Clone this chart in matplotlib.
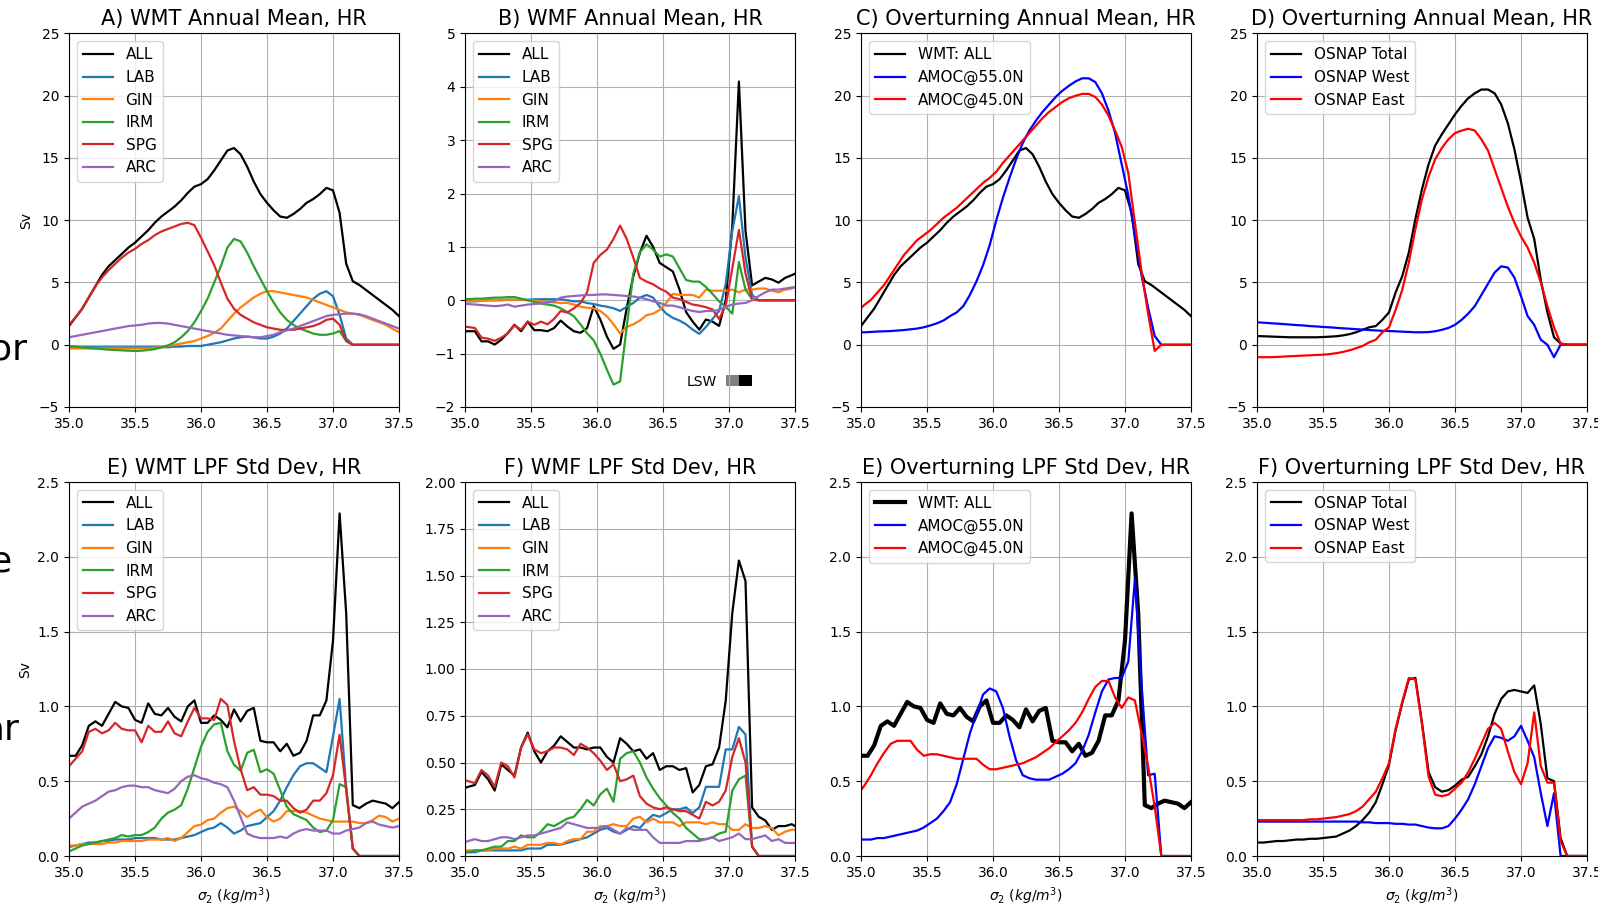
import numpy as np
import matplotlib
matplotlib.use("Agg")
import matplotlib.pyplot as plt

# density bins (WMT / OSNAP) and bin midpoints (WMF / AMOC)
sig = np.round(np.arange(35.0, 37.5001, 0.05), 3)
sig_mid = np.round(np.arange(34.975, 37.5251, 0.05), 3)

# ---- annual mean WMT by region (Sv)
wmt_all = [1.5, 2.2, 2.9, 3.8, 4.7, 5.6, 6.3, 6.8, 7.3, 7.8,
           8.2, 8.7, 9.2, 9.8, 10.3, 10.7, 11.1, 11.6, 12.2, 12.7,
           12.9, 13.3, 14.0, 14.8, 15.6, 15.8, 15.3, 14.3, 13.1, 12.1,
           11.4, 10.8, 10.3, 10.2, 10.5, 10.9, 11.4, 11.7, 12.1, 12.6,
           12.4, 10.6, 6.5, 5.1, 4.8, 4.4, 4.0, 3.6, 3.2, 2.8,
           2.3]
wmt_lab = [-0.2, -0.2, -0.2, -0.2, -0.2, -0.2, -0.2, -0.2, -0.2, -0.2,
           -0.2, -0.2, -0.2, -0.2, -0.2, -0.2, -0.15, -0.15, -0.1, -0.1,
           -0.1, 0.0, 0.1, 0.2, 0.35, 0.5, 0.6, 0.65, 0.6, 0.5,
           0.5, 0.65, 0.9, 1.3, 1.9, 2.5, 3.1, 3.7, 4.1, 4.3,
           3.9, 2.4, 0.5, 0.0, 0.0, 0.0, 0.0, 0.0, 0.0, 0.0,
           0.0]
wmt_gin = [-0.3, -0.3, -0.3, -0.3, -0.3, -0.3, -0.3, -0.3, -0.3, -0.3,
           -0.3, -0.3, -0.3, -0.25, -0.2, -0.1, 0.0, 0.1, 0.2, 0.3,
           0.5, 0.7, 0.95, 1.3, 1.9, 2.5, 3.0, 3.4, 3.8, 4.1,
           4.3, 4.3, 4.2, 4.1, 4.0, 3.9, 3.8, 3.6, 3.4, 3.2,
           3.0, 2.8, 2.6, 2.5, 2.4, 2.2, 2.0, 1.8, 1.6, 1.3,
           1.0]
wmt_irm = [-0.1, -0.15, -0.2, -0.25, -0.3, -0.35, -0.4, -0.42, -0.45, -0.48,
           -0.5, -0.48, -0.42, -0.35, -0.2, -0.05, 0.2, 0.6, 1.1, 1.8,
           2.7, 3.7, 5.0, 6.3, 7.8, 8.5, 8.3, 7.4, 6.3, 5.3,
           4.3, 3.4, 2.6, 2.0, 1.6, 1.3, 1.1, 0.9, 0.8, 0.8,
           0.9, 1.1, 0.3, 0.0, 0.0, 0.0, 0.0, 0.0, 0.0, 0.0,
           0.0]
wmt_spg = [1.6, 2.2, 2.9, 3.8, 4.7, 5.4, 6.0, 6.5, 7.0, 7.4,
           7.7, 8.1, 8.4, 8.8, 9.1, 9.3, 9.5, 9.7, 9.8, 9.6,
           8.6, 7.5, 6.4, 5.0, 3.7, 2.9, 2.4, 2.1, 1.8, 1.6,
           1.4, 1.3, 1.2, 1.2, 1.2, 1.3, 1.4, 1.5, 1.7, 2.0,
           2.1, 1.6, 0.3, 0.0, 0.0, 0.0, 0.0, 0.0, 0.0, 0.0,
           0.0]
wmt_arc = [0.6, 0.7, 0.8, 0.9, 1.0, 1.1, 1.2, 1.3, 1.4, 1.5,
           1.55, 1.6, 1.7, 1.75, 1.75, 1.7, 1.6, 1.5, 1.4, 1.3,
           1.2, 1.1, 1.0, 0.9, 0.8, 0.75, 0.7, 0.65, 0.6, 0.6,
           0.7, 0.8, 1.0, 1.15, 1.3, 1.5, 1.7, 1.9, 2.1, 2.3,
           2.4, 2.45, 2.5, 2.5, 2.45, 2.3, 2.1, 1.9, 1.7, 1.5,
           1.3]

# ---- annual mean WMF by region (Sv), on midpoints
wmf_all = [-0.58, -0.58, -0.58, -0.77, -0.77, -0.83, -0.74, -0.61, -0.46, -0.58,
           -0.40, -0.56, -0.56, -0.58, -0.52, -0.38, -0.49, -0.58, -0.61, -0.52,
           -0.11, -0.36, -0.68, -0.91, -0.83, -0.15, 0.45, 0.89, 1.21, 1.00,
           0.70, 0.62, 0.54, 0.20, -0.22, -0.40, -0.55, -0.36, -0.40, -0.48,
           0.00, 1.40, 4.10, 1.30, 0.28, 0.35, 0.42, 0.39, 0.33, 0.42,
           0.47, 0.53]
wmf_lab = [0.0, -0.02, -0.02, -0.01, 0.0, 0.0, 0.0, 0.01, 0.01, 0.01,
           0.01, 0.02, 0.02, 0.02, 0.02, 0.02, 0.0, -0.02, -0.02, -0.05,
           -0.07, -0.1, -0.12, -0.15, -0.2, -0.12, -0.05, 0.05, 0.1, 0.05,
           -0.12, -0.25, -0.33, -0.38, -0.45, -0.55, -0.63, -0.5, -0.35, -0.2,
           0.3, 1.3, 1.95, 0.8, 0.1, 0.0, 0.0, 0.0, 0.0, 0.0,
           0.0, 0.0]
wmf_gin = [-0.02, -0.02, -0.01, -0.01, 0.0, 0.0, 0.01, 0.01, 0.01, 0.01,
           0.0, 0.0, -0.02, -0.03, -0.04, -0.05, -0.05, -0.08, -0.12, -0.14,
           -0.15, -0.2, -0.3, -0.45, -0.62, -0.5, -0.45, -0.38, -0.28, -0.25,
           -0.18, -0.05, 0.12, 0.1, 0.1, 0.1, 0.05, 0.2, 0.18, 0.18,
           0.18, 0.2, 0.15, 0.2, 0.2, 0.22, 0.22, 0.18, 0.15, 0.2,
           0.22, 0.28]
wmf_irm = [0.02, 0.02, 0.03, 0.03, 0.04, 0.05, 0.05, 0.06, 0.06, 0.03,
           0.0, -0.03, -0.06, -0.08, -0.1, -0.15, -0.22, -0.3, -0.45, -0.62,
           -0.75, -1.0, -1.3, -1.58, -1.52, -0.5, 0.5, 0.9, 1.05, 0.95,
           0.82, 0.86, 0.82, 0.6, 0.38, 0.35, 0.35, 0.25, 0.12, -0.02,
           -0.12, -0.25, 0.72, 0.2, 0.02, 0.0, 0.0, 0.0, 0.0, 0.0,
           0.0, 0.0]
wmf_spg = [-0.5, -0.5, -0.52, -0.7, -0.72, -0.76, -0.7, -0.62, -0.47, -0.55,
           -0.4, -0.46, -0.4, -0.45, -0.35, -0.2, -0.23, -0.15, -0.05, 0.15,
           0.7, 0.85, 0.95, 1.15, 1.4, 1.15, 0.8, 0.42, 0.35, 0.3,
           0.22, 0.16, 0.05, 0.02, -0.03, -0.08, -0.1, -0.13, -0.17, -0.35,
           -0.1, 0.6, 1.32, 0.5, 0.02, 0.0, 0.0, 0.0, 0.0, 0.0,
           0.0, 0.0]
wmf_arc = [-0.07, -0.07, -0.08, -0.09, -0.1, -0.11, -0.1, -0.08, -0.12, -0.1,
           -0.08, -0.07, -0.06, -0.04, -0.02, 0.05, 0.07, 0.08, 0.09, 0.1,
           0.1, 0.11, 0.11, 0.1, 0.09, 0.08, 0.07, 0.05, 0.02, -0.02,
           -0.05, -0.1, -0.1, -0.13, -0.17, -0.2, -0.22, -0.2, -0.2, -0.18,
           -0.12, -0.08, -0.06, -0.05, 0.0, 0.08, 0.15, 0.2, 0.2, 0.22,
           0.24, 0.24]

# ---- annual mean overturning in density space (Sv)
amoc55 = [1.0, 1.0, 1.03, 1.06, 1.08, 1.1, 1.14, 1.18, 1.24, 1.3,
          1.4, 1.55, 1.72, 1.95, 2.3, 2.6, 3.1, 4.0, 5.1, 6.4,
          8.0, 10.0, 11.8, 13.4, 14.9, 16.2, 17.2, 18.0, 18.7, 19.3,
          19.9, 20.4, 20.8, 21.15, 21.4, 21.4, 21.1, 20.2, 18.8, 17.0,
          14.5, 12.0, 8.8, 5.6, 3.0, 0.7, 0.0, 0.0, 0.0, 0.0,
          0.0, 0.0]
amoc45 = [2.7, 3.2, 3.6, 4.2, 4.8, 5.6, 6.4, 7.2, 7.8, 8.4,
          8.8, 9.2, 9.7, 10.2, 10.6, 11.0, 11.5, 12.0, 12.5, 13.0,
          13.4, 13.9, 14.6, 15.2, 15.8, 16.4, 17.0, 17.6, 18.2, 18.7,
          19.1, 19.5, 19.8, 20.0, 20.15, 20.15, 19.9, 19.3, 18.4, 17.2,
          15.9, 13.8, 9.8, 5.9, 2.5, -0.5, 0.0, 0.0, 0.0, 0.0,
          0.0, 0.0]
osnap_tot = [0.7, 0.68, 0.66, 0.64, 0.62, 0.6, 0.6, 0.6, 0.6, 0.6,
             0.62, 0.65, 0.68, 0.75, 0.85, 1.0, 1.2, 1.4, 1.5, 2.0,
             2.6, 4.2, 5.5, 7.4, 10.1, 12.5, 14.5, 16.0, 16.9, 17.7,
             18.5, 19.2, 19.8, 20.2, 20.5, 20.5, 20.2, 19.3, 17.8, 15.7,
             13.1, 10.2, 8.5, 5.2, 2.6, 0.6, 0.1, 0.0, 0.0, 0.0,
             0.0]
osnap_w = [1.8, 1.77, 1.73, 1.7, 1.66, 1.62, 1.58, 1.55, 1.5, 1.47,
           1.43, 1.4, 1.36, 1.32, 1.29, 1.25, 1.22, 1.18, 1.15, 1.12,
           1.1, 1.08, 1.05, 1.03, 1.0, 1.0, 1.02, 1.08, 1.2, 1.35,
           1.6, 2.0, 2.5, 3.1, 4.0, 4.9, 5.8, 6.3, 6.2, 5.4,
           3.9, 2.3, 1.6, 0.4, 0.0, -1.0, 0.0, 0.0, 0.0, 0.0,
           0.0]
osnap_e = [-1.0, -1.0, -1.0, -0.98, -0.95, -0.92, -0.9, -0.87, -0.85, -0.82,
           -0.8, -0.75, -0.68, -0.58, -0.45, -0.28, -0.1, 0.2, 0.4, 1.0,
           1.4, 2.8, 4.4, 6.6, 9.3, 11.7, 13.5, 14.9, 15.8, 16.5,
           17.0, 17.2, 17.35, 17.2, 16.5, 15.6, 14.1, 12.6, 11.1, 9.8,
           8.7, 7.8, 6.6, 5.0, 3.1, 1.4, 0.1, 0.0, 0.0, 0.0,
           0.0]

# ---- std dev of low-pass filtered WMT (Sv)
sd_wmt_all = [0.67, 0.67, 0.74, 0.87, 0.90, 0.87, 0.95, 1.03, 1.0, 0.99,
              0.91, 0.89, 1.02, 0.95, 0.94, 0.99, 0.93, 0.9, 1.0, 1.04,
              0.89, 0.89, 0.94, 0.91, 0.86, 0.98, 0.90, 0.97, 0.99, 0.77,
              0.76, 0.76, 0.70, 0.75, 0.67, 0.69, 0.77, 0.94, 0.94, 1.04,
              1.44, 2.29, 1.62, 0.34, 0.32, 0.35, 0.37, 0.36, 0.35, 0.32,
              0.36]
sd_wmt_lab = [0.06, 0.07, 0.08, 0.09, 0.09, 0.10, 0.10, 0.11, 0.11, 0.11,
              0.12, 0.12, 0.12, 0.12, 0.11, 0.11, 0.11, 0.12, 0.13, 0.14,
              0.16, 0.18, 0.19, 0.22, 0.19, 0.15, 0.17, 0.20, 0.21, 0.22,
              0.26, 0.30, 0.37, 0.46, 0.54, 0.60, 0.62, 0.62, 0.59, 0.56,
              0.80, 1.05, 0.45, 0.05, 0.0, 0.0, 0.0, 0.0, 0.0, 0.0,
              0.0]
sd_wmt_gin = [0.07, 0.07, 0.08, 0.08, 0.08, 0.08, 0.09, 0.09, 0.10, 0.10,
              0.10, 0.10, 0.11, 0.11, 0.11, 0.12, 0.10, 0.12, 0.16, 0.20,
              0.21, 0.24, 0.25, 0.29, 0.32, 0.33, 0.30, 0.26, 0.29, 0.31,
              0.26, 0.23, 0.25, 0.30, 0.30, 0.30, 0.29, 0.27, 0.25, 0.24,
              0.23, 0.23, 0.23, 0.23, 0.22, 0.22, 0.24, 0.27, 0.26, 0.23,
              0.25]
sd_wmt_irm = [0.03, 0.05, 0.07, 0.08, 0.09, 0.10, 0.11, 0.12, 0.14, 0.13,
              0.14, 0.14, 0.16, 0.19, 0.25, 0.29, 0.31, 0.34, 0.45, 0.59,
              0.73, 0.83, 0.88, 0.89, 0.70, 0.61, 0.57, 0.69, 0.71, 0.56,
              0.58, 0.55, 0.44, 0.33, 0.28, 0.26, 0.24, 0.19, 0.16, 0.17,
              0.24, 0.48, 0.46, 0.05, 0.0, 0.0, 0.0, 0.0, 0.0, 0.0,
              0.0]
sd_wmt_spg = [0.60, 0.65, 0.70, 0.83, 0.85, 0.82, 0.84, 0.89, 0.85, 0.84,
              0.84, 0.76, 0.87, 0.83, 0.83, 0.90, 0.82, 0.80, 0.90, 0.99,
              0.92, 0.92, 0.91, 1.05, 1.01, 0.77, 0.58, 0.44, 0.46, 0.41,
              0.41, 0.40, 0.37, 0.37, 0.32, 0.29, 0.31, 0.37, 0.37, 0.42,
              0.54, 0.81, 0.44, 0.05, 0.0, 0.0, 0.0, 0.0, 0.0, 0.0,
              0.0]
sd_wmt_arc = [0.25, 0.29, 0.33, 0.35, 0.37, 0.40, 0.43, 0.44, 0.46, 0.47,
              0.47, 0.46, 0.46, 0.44, 0.43, 0.42, 0.45, 0.50, 0.53, 0.54,
              0.52, 0.51, 0.49, 0.48, 0.46, 0.37, 0.26, 0.15, 0.13, 0.12,
              0.12, 0.12, 0.13, 0.12, 0.15, 0.17, 0.18, 0.17, 0.17, 0.17,
              0.15, 0.15, 0.17, 0.18, 0.19, 0.22, 0.23, 0.21, 0.20, 0.19,
              0.20]

# ---- std dev of low-pass filtered WMF (Sv), on midpoints
sd_wmf_all = [0.36, 0.37, 0.38, 0.45, 0.41, 0.35, 0.49, 0.46, 0.43, 0.58,
              0.66, 0.56, 0.50, 0.56, 0.59, 0.64, 0.61, 0.58, 0.58, 0.57,
              0.58, 0.58, 0.53, 0.50, 0.63, 0.60, 0.56, 0.57, 0.52, 0.55,
              0.46, 0.48, 0.48, 0.46, 0.47, 0.34, 0.38, 0.48, 0.49, 0.58,
              0.83, 1.30, 1.58, 1.47, 0.26, 0.21, 0.19, 0.14, 0.16, 0.16,
              0.17, 0.15]
sd_wmf_lab = [0.02, 0.02, 0.02, 0.03, 0.03, 0.03, 0.03, 0.03, 0.03, 0.03,
              0.04, 0.04, 0.04, 0.06, 0.06, 0.06, 0.07, 0.08, 0.09, 0.10,
              0.12, 0.14, 0.15, 0.13, 0.12, 0.14, 0.16, 0.15, 0.19, 0.22,
              0.21, 0.23, 0.25, 0.25, 0.26, 0.23, 0.26, 0.37, 0.37, 0.37,
              0.57, 0.57, 0.69, 0.65, 0.05, 0.0, 0.0, 0.0, 0.0, 0.0,
              0.0, 0.0]
sd_wmf_gin = [0.03, 0.03, 0.03, 0.03, 0.03, 0.04, 0.04, 0.04, 0.05, 0.04,
              0.06, 0.06, 0.06, 0.07, 0.07, 0.06, 0.08, 0.09, 0.09, 0.13,
              0.13, 0.16, 0.16, 0.17, 0.16, 0.16, 0.20, 0.21, 0.18, 0.20,
              0.18, 0.18, 0.18, 0.16, 0.18, 0.18, 0.18, 0.17, 0.18, 0.17,
              0.17, 0.14, 0.14, 0.17, 0.15, 0.15, 0.16, 0.15, 0.11, 0.13,
              0.14, 0.14]
sd_wmf_irm = [0.02, 0.02, 0.03, 0.03, 0.04, 0.05, 0.05, 0.08, 0.08, 0.11,
              0.10, 0.10, 0.13, 0.17, 0.16, 0.18, 0.20, 0.21, 0.25, 0.30,
              0.27, 0.33, 0.36, 0.29, 0.52, 0.55, 0.56, 0.50, 0.42, 0.36,
              0.31, 0.27, 0.23, 0.20, 0.15, 0.12, 0.09, 0.09, 0.10, 0.12,
              0.13, 0.35, 0.41, 0.43, 0.05, 0.0, 0.0, 0.0, 0.0, 0.0,
              0.0, 0.0]
sd_wmf_spg = [0.41, 0.40, 0.39, 0.46, 0.43, 0.37, 0.50, 0.48, 0.42, 0.58,
              0.65, 0.57, 0.55, 0.56, 0.58, 0.58, 0.57, 0.54, 0.60, 0.58,
              0.55, 0.51, 0.46, 0.49, 0.40, 0.41, 0.43, 0.32, 0.28, 0.26,
              0.25, 0.26, 0.25, 0.24, 0.24, 0.22, 0.20, 0.29, 0.27, 0.29,
              0.35, 0.53, 0.63, 0.50, 0.05, 0.0, 0.0, 0.0, 0.0, 0.0,
              0.0, 0.0]
sd_wmf_arc = [0.07, 0.08, 0.09, 0.08, 0.08, 0.09, 0.10, 0.10, 0.09, 0.10,
              0.11, 0.11, 0.12, 0.13, 0.14, 0.15, 0.18, 0.17, 0.16, 0.15,
              0.15, 0.15, 0.16, 0.14, 0.12, 0.15, 0.14, 0.14, 0.14, 0.10,
              0.07, 0.07, 0.07, 0.07, 0.08, 0.08, 0.08, 0.09, 0.10, 0.08,
              0.09, 0.10, 0.12, 0.09, 0.09, 0.10, 0.11, 0.08, 0.09, 0.07,
              0.07, 0.07]

# ---- std dev of low-pass filtered overturning (Sv)
sd_amoc55 = [0.11, 0.11, 0.11, 0.12, 0.12, 0.13, 0.14, 0.15, 0.16, 0.17,
             0.19, 0.22, 0.25, 0.30, 0.36, 0.48, 0.65, 0.82, 0.95, 1.08,
             1.12, 1.10, 0.99, 0.80, 0.64, 0.54, 0.52, 0.51, 0.51, 0.51,
             0.53, 0.55, 0.58, 0.62, 0.70, 0.81, 0.96, 1.10, 1.18, 1.19,
             1.19, 1.30, 1.85, 1.15, 0.54, 0.55, 0.0, 0.0, 0.0, 0.0,
             0.0, 0.0]
sd_amoc45 = [0.41, 0.47, 0.54, 0.62, 0.69, 0.75, 0.77, 0.77, 0.77, 0.71,
             0.67, 0.68, 0.68, 0.67, 0.66, 0.65, 0.65, 0.65, 0.65, 0.61,
             0.58, 0.58, 0.59, 0.60, 0.61, 0.62, 0.64, 0.66, 0.69, 0.72,
             0.76, 0.80, 0.84, 0.89, 0.96, 1.05, 1.13, 1.17, 1.17, 1.06,
             0.99, 1.06, 1.04, 0.82, 0.60, 0.33, 0.0, 0.0, 0.0, 0.0,
             0.0, 0.0]
sd_osnap_tot = [0.09, 0.09, 0.095, 0.10, 0.10, 0.105, 0.11, 0.11, 0.115, 0.115,
                0.12, 0.125, 0.13, 0.15, 0.17, 0.20, 0.24, 0.29, 0.36, 0.48,
                0.61, 0.84, 1.02, 1.18, 1.19, 0.89, 0.56, 0.46, 0.43, 0.44,
                0.47, 0.51, 0.53, 0.60, 0.68, 0.80, 0.95, 1.05, 1.10, 1.11,
                1.10, 1.09, 1.14, 0.88, 0.52, 0.50, 0.12, 0.0, 0.0, 0.0,
                0.0]
sd_osnap_w = [0.23, 0.23, 0.23, 0.23, 0.23, 0.23, 0.23, 0.23, 0.23, 0.23,
              0.23, 0.23, 0.23, 0.23, 0.23, 0.23, 0.225, 0.225, 0.22, 0.22,
              0.22, 0.215, 0.215, 0.21, 0.21, 0.20, 0.19, 0.185, 0.185, 0.20,
              0.25, 0.31, 0.38, 0.48, 0.60, 0.72, 0.80, 0.79, 0.77, 0.80,
              0.87, 0.77, 0.66, 0.42, 0.20, 0.42, 0.0, 0.0, 0.0, 0.0,
              0.0]
sd_osnap_e = [0.24, 0.24, 0.24, 0.24, 0.24, 0.24, 0.24, 0.24, 0.245, 0.245,
              0.25, 0.255, 0.26, 0.27, 0.28, 0.30, 0.33, 0.38, 0.43, 0.52,
              0.62, 0.85, 1.03, 1.19, 1.18, 0.88, 0.53, 0.41, 0.40, 0.41,
              0.45, 0.49, 0.56, 0.65, 0.75, 0.85, 0.89, 0.85, 0.70, 0.56,
              0.48, 0.62, 0.96, 0.60, 0.49, 0.49, 0.10, 0.0, 0.0, 0.0,
              0.0]

regions = ['ALL', 'LAB', 'GIN', 'IRM', 'SPG', 'ARC']
region_colors = ['k', 'tab:blue', 'tab:orange', 'tab:green', 'tab:red', 'tab:purple']
amoc_labels = ['WMT: ALL', 'AMOC@55.0N', 'AMOC@45.0N']
osnap_labels = ['OSNAP Total', 'OSNAP West', 'OSNAP East']
lsw_edges = [36.975, 37.075, 37.175]
lsw_shades = ['gray', 'k']

LW = 1.6
W, H = 1598, 906
fig = plt.figure(figsize=(W / 100, H / 100), dpi=100)


def panel(col, row):
    left = [69, 465, 861, 1257][col]
    top, bot = [(33.5, 407), (482, 856)][row]
    return fig.add_axes([left / W, 1 - bot / H, 330 / W, (bot - top) / H])


def finish(ax, title, ylim, yticks, xlabel=False, ylabel=False):
    ax.set_xlim(35, 37.5)
    ax.set_xticks(np.arange(35, 37.51, 0.5))
    ax.set_ylim(*ylim)
    ax.set_yticks(yticks)
    ax.grid(True)
    ax.tick_params(labelsize=10)
    ax.set_title(title, fontsize=15)
    ax.legend(loc='upper left', fontsize=11)
    if xlabel:
        ax.set_xlabel(r'$\sigma_2$ $(kg/m^3)$', fontsize=10)
    if ylabel:
        ax.set_ylabel('Sv', fontsize=10)


# A) WMT annual mean
ax = panel(0, 0)
for y, lab, c in zip([wmt_all, wmt_lab, wmt_gin, wmt_irm, wmt_spg, wmt_arc], regions, region_colors):
    ax.plot(sig, y, color=c, lw=LW, label=lab)
finish(ax, 'A) WMT Annual Mean, HR', (-5, 25), np.arange(-5, 26, 5), ylabel=True)

# B) WMF annual mean
ax = panel(1, 0)
for y, lab, c in zip([wmf_all, wmf_lab, wmf_gin, wmf_irm, wmf_spg, wmf_arc], regions, region_colors):
    ax.plot(sig_mid, y, color=c, lw=LW, label=lab)
for i, c in enumerate(lsw_shades):
    ax.fill_between(lsw_edges[i:i + 2], -1.6, -1.4, color=c, lw=0)
ax.text(36.68, -1.6, 'LSW', fontsize=10, va='baseline')
finish(ax, 'B) WMF Annual Mean, HR', (-2, 5), np.arange(-2, 6, 1))

# C) overturning annual mean
ax = panel(2, 0)
ax.plot(sig, wmt_all, color='k', lw=LW, label=amoc_labels[0])
ax.plot(sig_mid, amoc55, color='b', lw=LW, label=amoc_labels[1])
ax.plot(sig_mid, amoc45, color='r', lw=LW, label=amoc_labels[2])
finish(ax, 'C) Overturning Annual Mean, HR', (-5, 25), np.arange(-5, 26, 5))

# D) OSNAP annual mean
ax = panel(3, 0)
for y, lab, c in zip([osnap_tot, osnap_w, osnap_e], osnap_labels, ['k', 'b', 'r']):
    ax.plot(sig, y, color=c, lw=LW, label=lab)
finish(ax, 'D) Overturning Annual Mean, HR', (-5, 25), np.arange(-5, 26, 5))

# E) WMT std dev
ax = panel(0, 1)
for y, lab, c in zip([sd_wmt_all, sd_wmt_lab, sd_wmt_gin, sd_wmt_irm, sd_wmt_spg, sd_wmt_arc],
                     regions, region_colors):
    ax.plot(sig, y, color=c, lw=LW, label=lab)
finish(ax, 'E) WMT LPF Std Dev, HR', (0, 2.5), np.arange(0, 2.51, 0.5), xlabel=True, ylabel=True)

# F) WMF std dev
ax = panel(1, 1)
for y, lab, c in zip([sd_wmf_all, sd_wmf_lab, sd_wmf_gin, sd_wmf_irm, sd_wmf_spg, sd_wmf_arc],
                     regions, region_colors):
    ax.plot(sig_mid, y, color=c, lw=LW, label=lab)
finish(ax, 'F) WMF LPF Std Dev, HR', (0, 2), np.arange(0, 2.01, 0.25), xlabel=True)

# overturning std dev
ax = panel(2, 1)
ax.plot(sig, sd_wmt_all, color='k', lw=3, label=amoc_labels[0])
ax.plot(sig_mid, sd_amoc55, color='b', lw=LW, label=amoc_labels[1])
ax.plot(sig_mid, sd_amoc45, color='r', lw=LW, label=amoc_labels[2])
finish(ax, 'E) Overturning LPF Std Dev, HR', (0, 2.5), np.arange(0, 2.51, 0.5), xlabel=True)

# OSNAP std dev
ax = panel(3, 1)
for y, lab, c in zip([sd_osnap_tot, sd_osnap_w, sd_osnap_e], osnap_labels, ['k', 'b', 'r']):
    ax.plot(sig, y, color=c, lw=LW, label=lab)
finish(ax, 'F) Overturning LPF Std Dev, HR', (0, 2.5), np.arange(0, 2.51, 0.5), xlabel=True)

# row labels running off the left edge
fig.text(27 / W, 1 - 360 / H, 'or', fontsize=26, ha='right', va='baseline')
fig.text(12 / W, 1 - 572 / H, 'e', fontsize=26, ha='right', va='baseline')
fig.text(20 / W, 1 - 740 / H, 'ar', fontsize=26, ha='right', va='baseline')

fig.savefig('out.png', dpi=100)
